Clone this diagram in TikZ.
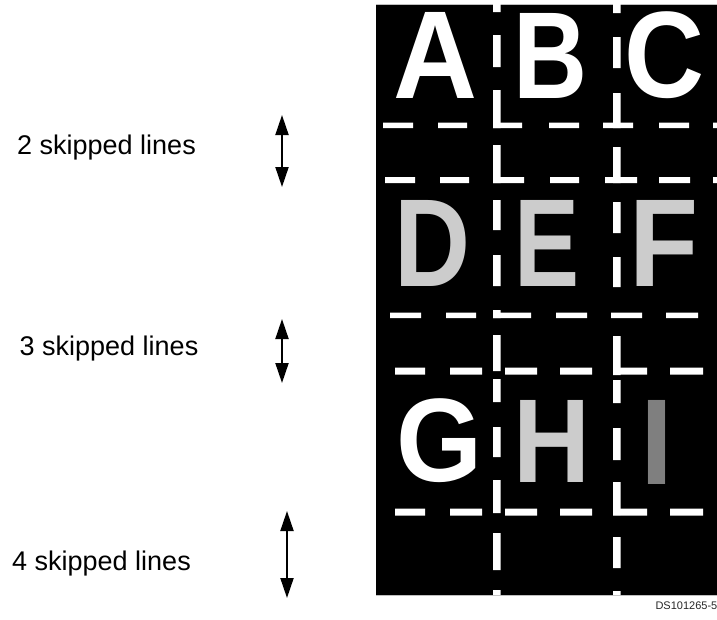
\documentclass[tikz,border=0pt]{standalone}
\usepackage{fontspec}
\setmainfont{Liberation Sans}
\usetikzlibrary{arrows.meta}

\definecolor{litegray}{HTML}{CCCCCC}
\definecolor{midgray}{HTML}{7F7F7F}

\tikzset{
  glyph/.style={inner sep=0pt, outer sep=0pt},
  skiplabel/.style={anchor=base west, inner sep=0pt, font=\fontsize{27}{32}\selectfont},
  skiparrow/.style={line width=2pt, {Triangle[length=20pt,width=13pt]}-{Triangle[length=20pt,width=13pt]}},
}
\newcommand{\pixletter}[3]{\resizebox*{#1pt}{#2pt}{\bfseries #3}}

\begin{document}
\begin{tikzpicture}[x=1pt,y=-1pt]
                \useasboundingbox (0,0) rectangle (717,619);
                \fill[black] (376,4) rectangle (717,595);
                \draw[gray!50, line width=0.8pt] (376,4) -- (717,4) (376,595) -- (717,595);

                % vertical dashes
                \fill[white] (493,4) rectangle (500.5,12) (493,35) rectangle (500.5,67)
                  (493,90) rectangle (500.5,128) (493,145) rectangle (500.5,183)
                  (493,200) rectangle (500.5,230) (493,255) rectangle (500.5,286)
                  (493,310) rectangle (500.5,318) (493,335) rectangle (500.5,371)
                  (493,379) rectangle (500.5,402) (493,427) rectangle (500.5,457)
                  (493,480) rectangle (500.5,513) (493,533) rectangle (500.5,570)
                  (493,590) rectangle (500.5,595);
                \fill[white] (613,4) rectangle (620.5,13) (613,37) rectangle (620.5,68)
                  (613,93) rectangle (620.5,128) (613,147) rectangle (620.5,183)
                  (613,202) rectangle (620.5,233) (613,257) rectangle (620.5,287)
                  (613,336) rectangle (620.5,375) (613,380) rectangle (620.5,403)
                  (613,428) rectangle (620.5,460) (613,482) rectangle (620.5,515)
                  (613,537) rectangle (620.5,568) (613,591) rectangle (620.5,595);

                % horizontal dashes
                \fill[white] (383,122.5) rectangle (413,128) (438,122.5) rectangle (467,128)
                  (493,122.5) rectangle (522,128) (549,122.5) rectangle (579,128)
                  (603,122.5) rectangle (633,128) (659,122.5) rectangle (689,128)
                  (713,122.5) rectangle (717,128);
                \fill[white] (385,177) rectangle (415,183) (440,177) rectangle (469,183)
                  (493,177) rectangle (524,183) (550,177) rectangle (579,183)
                  (605,177) rectangle (637,183) (659,177) rectangle (690,183)
                  (713,177) rectangle (717,183);
                \fill[white] (390,312.5) rectangle (421,318) (446,312.5) rectangle (476,318)
                  (493,312.5) rectangle (531,318) (556,312.5) rectangle (587,318)
                  (611,312.5) rectangle (642,318) (666,312.5) rectangle (698,318);
                \fill[white] (395,367.5) rectangle (425,374.5) (450,367.5) rectangle (482,374.5)
                  (505,367.5) rectangle (537,374.5) (560,367.5) rectangle (592,374.5)
                  (613,367.5) rectangle (647,374.5) (670,367.5) rectangle (703,374.5);
                \fill[white] (395,508.5) rectangle (425,515.5) (450,508.5) rectangle (482,515.5)
                  (505,508.5) rectangle (537,515.5) (560,508.5) rectangle (592,515.5)
                  (613,508.5) rectangle (647,515.5) (670,508.5) rectangle (703,515.5);

                % letters
                \node[glyph, text=white] (letA) at (436,55.5) {\pixletter{84}{86}{A}};
                \node[glyph, text=white] (letB) at (551,55.5) {\pixletter{74}{85}{B}};
                \node[glyph, text=white] (letC) at (665,55.5) {\pixletter{80}{87}{C}};
                \node[glyph, text=litegray] (letD) at (433,243) {\pixletter{76}{86}{D}};
                \node[glyph, text=litegray] (letE) at (547,243) {\pixletter{65}{86}{E}};
                \node[glyph, text=litegray] (letF) at (664,243) {\pixletter{69}{86}{F}};
                \node[glyph, text=white] (letG) at (440,441) {\pixletter{86}{84}{G}};
                \node[glyph, text=litegray] (letH) at (552.5,441) {\pixletter{77}{82}{H}};
                \node[glyph, text=midgray] (letI) at (657,442) {\pixletter{33}{84}{I}};

                % labels and arrows
                \node[skiplabel] (lblTwo) at (17,154) {2 skipped lines};
                \node[skiplabel] (lblThree) at (19.5,355) {3 skipped lines};
                \node[skiplabel] (lblFour) at (12,570) {4 skipped lines};

                \coordinate (twoTop) at (282,115);
                \coordinate (twoBot) at (282,187);
                \coordinate (threeTop) at (282,319);
                \coordinate (threeBot) at (282,383);
                \coordinate (fourTop) at (287,511);
                \coordinate (fourBot) at (287,598);
                \draw[skiparrow] (twoTop) -- (twoBot);
                \draw[skiparrow] (threeTop) -- (threeBot);
                \draw[skiparrow] (fourTop) -- (fourBot);

                \node[anchor=base east, inner sep=0pt, font=\fontsize{11}{13}\selectfont, text=black!85] (figId) at (717.5,609) {DS101265-5};
            \end{tikzpicture}
\end{document}
